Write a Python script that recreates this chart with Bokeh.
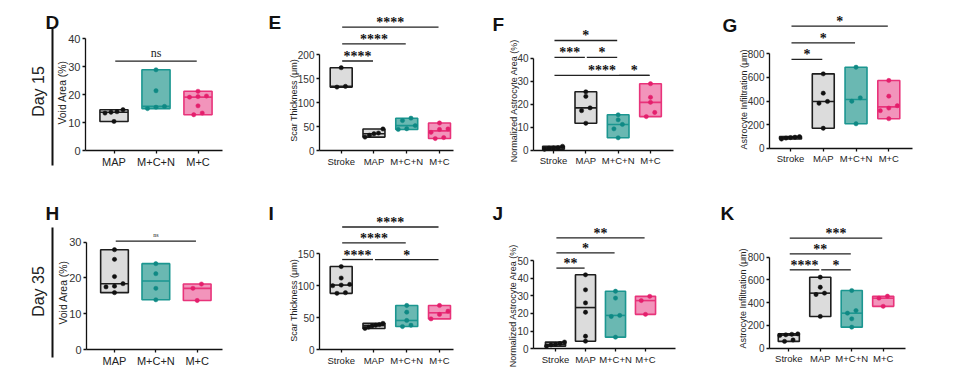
import numpy as np
from bokeh.plotting import figure
from bokeh.models import Range1d, LinearAxis, FixedTicker, Label, LabelSet, ColumnDataSource
from bokeh.layouts import row, column
from bokeh.embed import file_html
from bokeh.resources import INLINE

# ---------------- data ----------------
CATS_3 = ["MAP", "M+C+N", "M+C"]
CATS_4 = ["Stroke", "MAP", "M+C+N", "M+C"]

# D  Void Area (%) - Day 15
D_MAP = [10.4, 13.4, 13.7, 13.9, 14.6]
D_MCN = [15.0, 15.5, 15.8, 21.4, 28.9]
D_MC = [12.8, 13.4, 16.0, 19.1, 19.3, 19.5, 21.2]
# E  Scar Thickness (um) - Day 15
E_STROKE = [132.5, 134.0, 173.0]
E_MAP = [28.0, 32.0, 35.0, 36.5, 45.0]
E_MCN = [44.0, 45.5, 52.0, 62.5, 67.5]
E_MC = [25.0, 27.0, 38.0, 44.0, 45.0, 57.5]
# F  Normalized Astrocyte Area (%) - Day 15
F_STROKE = [0.4, 0.9, 1.0, 1.1, 1.7]
F_MAP = [11.7, 17.2, 18.4, 23.4, 25.4]
F_MCN = [5.4, 9.3, 11.2, 13.2, 15.4]
F_MC = [14.6, 16.4, 20.8, 23.0, 28.9]
# G  Astrocyte Infiltration (um) - Day 15
G_STROKE = [78, 86, 90, 93, 98]
G_MAP = [169, 381, 396, 466, 630]
G_MCN = [207, 398, 427, 686]
G_MC = [250, 318, 340, 360, 441, 574]
# H  Void Area (%) - Day 35
H_MAP = [15.9, 17.5, 17.7, 18.4, 20.4, 25.2, 27.9]
H_MCN = [13.9, 17.1, 21.2, 24.0]
H_MC = [13.7, 17.1, 18.3]
# I  Scar Thickness (um) - Day 35
I_STROKE = [88, 89, 100, 101, 102, 112, 130]
I_MAP = [33, 35, 37, 38, 39, 41]
I_MCN = [36, 38, 45.5, 58.5, 69]
I_MC = [48, 55, 60, 69]
# J  Normalized Astrocyte Area (%) - Day 35
J_STROKE = [1.5, 2.2, 2.5, 3.0, 3.8]
J_MAP = [4.3, 7.1, 20.7, 26.0, 33.4, 41.9]
J_MCN = [6.6, 18.3, 18.9, 28.7, 32.6]
J_MC = [19.5, 27.3, 29.7]
# K  Astrocyte Infiltration (um) - Day 35
K_STROKE = [60, 72, 112, 118, 122, 126]
K_MAP = [279, 472, 484, 536, 624]
K_MCN = [185, 258, 308, 331, 507]
K_MC = [368, 440, 457]

# significance comparisons: (from, to, label, bar height in data units)
D_SIG = [("MAP", "M+C", "ns", 32.0)]
E_SIG = [("Stroke", "MAP", "****", 187), ("Stroke", "M+C+N", "****", 223), ("Stroke", "M+C", "****", 258)]
F_SIG = [("Stroke", "MAP", "***", 40.4), ("MAP", "M+C+N", "*", 40.4), ("Stroke", "M+C+N", "*", 47.7),
         ("Stroke", "M+C", "****", 32.5), ("M+C+N", "M+C", "*", 32.5)]
G_SIG = [("Stroke", "MAP", "*", 752), ("Stroke", "M+C+N", "*", 893), ("Stroke", "M+C", "*", 1034)]
H_SIG = [("MAP", "M+C", "ns", 30.3)]
I_SIG = [("Stroke", "MAP", "****", 141), ("MAP", "M+C", "*", 141), ("Stroke", "M+C+N", "****", 167),
         ("Stroke", "M+C", "****", 192)]
J_SIG = [("Stroke", "MAP", "**", 45.7), ("Stroke", "M+C+N", "*", 54.3), ("Stroke", "M+C", "**", 62.8)]
K_SIG = [("Stroke", "MAP", "****", 689), ("MAP", "M+C+N", "*", 689), ("Stroke", "M+C+N", "**", 830),
         ("Stroke", "M+C", "***", 968)]

TICKS_D = [0, 10, 20, 30, 40]
TICKS_E = [0, 50, 100, 150, 200]
TICKS_F = [0, 10, 20, 30, 40]
TICKS_G = [0, 200, 400, 600, 800]
TICKS_H = [0, 10, 20, 30]
TICKS_I = [0, 50, 100, 150]
TICKS_J = [0, 10, 20, 30, 40, 50]
TICKS_K = [0, 200, 400, 600, 800]

# ---------------- styles ----------------
FONT = "Liberation Sans"
STAR_FONT = "DejaVu Sans"
GRAY = dict(fill="#dcdcdc", line="#1e1e1e", pt="#111111")
TEAL = dict(fill="#6ab8b2", line="#1b9690", pt="#0f8984")
PINK = dict(fill="#f294bb", line="#e8337a", pt="#e41f6c")
STYLE = {"Stroke": GRAY, "MAP": GRAY, "M+C+N": TEAL, "M+C": PINK}
BOX_W = 0.67

# rows: (figure top, figure height) in page px
ROW1 = (0, 174)
ROW2 = (174, 193)


def swarm(vals, ppu, spx):
    vals = np.asarray(vals, float)
    order = np.argsort(vals)
    offs = np.zeros(len(vals))
    clusters, cur = [], [order[0]]
    for a, b in zip(order[:-1], order[1:]):
        if (vals[b] - vals[a]) * ppu < 4.5:
            cur.append(b)
        else:
            clusters.append(cur)
            cur = [b]
    clusters.append(cur)
    for c in clusters:
        m = len(c)
        if m == 1:
            continue
        dx = min(8.5, 18.0 / (m - 1))
        for k, i in enumerate(c):
            offs[i] = (k - (m - 1) / 2) * dx / spx
    return offs


def style_axis(ax, label_fs):
    ax.major_label_text_font = FONT
    ax.major_label_text_font_size = label_fs
    ax.major_label_text_color = "#333333"
    ax.major_tick_out = 3
    ax.major_tick_in = 0
    ax.minor_tick_out = 0
    ax.minor_tick_in = 0
    ax.axis_line_width = 1.3
    ax.major_tick_line_width = 1.3
    ax.axis_line_color = "#111111"
    ax.major_tick_line_color = "#111111"


def panel(letter, cats, groups, sig, ylabel, ticks, L, R, day=None, big=False, ns_size="12px"):
    fig_top, fig_h = R
    n = len(cats)
    spx = (L["last"] - L["first"]) / (n - 1)
    ppu = (L["zero"] - L["top"]) / ticks[-1]

    def xd(px):
        return (px - L["first"]) / spx

    def yd(py):
        return (L["zero"] - py) / ppu

    p = figure(width=L["w"], height=fig_h,
               x_range=Range1d(xd(L["x"]), xd(L["x"] + L["w"])),
               y_range=Range1d(yd(fig_top + fig_h), yd(fig_top)),
               output_backend="svg", toolbar_location=None,
               min_border=0, min_border_left=0, min_border_right=0,
               min_border_top=0, min_border_bottom=0)
    p.outline_line_color = None
    p.grid.visible = False
    p.background_fill_color = "white"
    p.border_fill_color = "white"

    tick_fs = "11px" if big else "10px"
    xl_fs = "11px" if big else "9.5px"
    lab_fs = "10.4px" if big else "9px"

    yax = p.yaxis[0]
    yax.fixed_location = xd(L["axis"])
    yax.ticker = FixedTicker(ticks=ticks)
    yax.bounds = (0, ticks[-1])
    yax.major_label_standoff = 2
    style_axis(yax, tick_fs)

    xax = p.xaxis[0]
    xax.fixed_location = 0
    xax.bounds = (xd(L["axis"]), xd(L["end"]))
    xax.ticker = FixedTicker(ticks=list(range(n)))
    xax.major_label_overrides = {i: c for i, c in enumerate(cats)}
    xax.major_label_standoff = 2
    style_axis(xax, xl_fs)
    xax.major_label_text_color = "#222222"

    # y-axis title
    cx, cy = L["ylab"]
    p.add_layout(Label(x=xd(cx), y=yd(cy), text=ylabel, angle=np.pi / 2, text_align="center",
                       text_baseline="middle", text_font=FONT, text_font_size=lab_fs,
                       text_color="#222222"))

    if day is not None:
        text, line_x, line_top, line_bot, tcx, tcy = day
        dax = LinearAxis(ticker=FixedTicker(ticks=[]))
        dax.fixed_location = xd(line_x)
        dax.bounds = (yd(line_bot), yd(line_top))
        dax.major_tick_out = 0
        dax.major_tick_in = 0
        dax.minor_tick_out = 0
        dax.minor_tick_in = 0
        dax.major_label_text_font_size = "0px"
        dax.axis_line_width = 2
        dax.axis_line_color = "#111111"
        p.add_layout(dax, "left")
        p.add_layout(Label(x=xd(tcx), y=yd(tcy), text=text, angle=np.pi / 2, text_align="center",
                           text_baseline="middle", text_font=FONT, text_font_size="16px",
                           text_color="#222222"))

    xs = np.arange(n, dtype=float)
    mins = [min(g) for g in groups]
    maxs = [max(g) for g in groups]
    meds = [float(np.median(g)) for g in groups]
    fills = [STYLE[c]["fill"] for c in cats]
    lines = [STYLE[c]["line"] for c in cats]
    p.vbar(x=xs, width=BOX_W, bottom=mins, top=maxs, fill_color=fills, line_color=lines, line_width=1.6)
    p.segment(x0=xs - BOX_W / 2, x1=xs + BOX_W / 2, y0=meds, y1=meds, line_color=lines, line_width=1.6)

    px, py, pc = [], [], []
    for i, (c, g) in enumerate(zip(cats, groups)):
        offs = swarm(g, ppu, spx)
        for v, o in zip(g, offs):
            px.append(i + o)
            py.append(v)
            pc.append(STYLE[c]["pt"])
    p.scatter(x=px, y=py, size=4.3, fill_color=pc, line_color=pc, line_width=0.5)

    idx = {c: i for i, c in enumerate(cats)}
    sx0 = [idx[a] + 0.03 for a, b, t, h in sig]
    sx1 = [idx[b] - 0.03 for a, b, t, h in sig]
    sh = [h for a, b, t, h in sig]
    p.segment(x0=sx0, x1=sx1, y0=sh, y1=sh, line_color="#222222", line_width=1.3)
    stars = [(0.5 * (idx[a] + idx[b]), h, t) for a, b, t, h in sig if t != "ns"]
    nss = [(0.5 * (idx[a] + idx[b]), h, t) for a, b, t, h in sig if t == "ns"]
    if stars:
        src = ColumnDataSource(dict(x=[s[0] for s in stars], y=[s[1] for s in stars], t=[s[2] for s in stars]))
        p.add_layout(LabelSet(x="x", y="y", text="t", source=src, text_align="center",
                              text_baseline="alphabetic", text_font=STAR_FONT, text_font_style="bold",
                              text_font_size="14px", text_color="#111111", y_offset=0))
    if nss:
        src = ColumnDataSource(dict(x=[s[0] for s in nss], y=[s[1] for s in nss], t=[s[2] for s in nss]))
        p.add_layout(LabelSet(x="x", y="y", text="t", source=src, text_align="center",
                              text_baseline="alphabetic", text_font=FONT, text_font_size=ns_size,
                              text_color="#222222", y_offset=4))

    lx, lb = L["letter"]
    p.add_layout(Label(x=xd(lx), y=yd(lb), text=letter,
                       text_font=FONT, text_font_style="bold", text_font_size="19px",
                       text_baseline="alphabetic", text_align="left", text_color="#111111"))
    return p


LD = dict(x=0, w=250, axis=85, end=222, first=113.5, last=197.5, zero=150, top=38.3,
          ylab=(62, 92), letter=(45, 22))
LE = dict(x=250, w=220, axis=319, end=453, first=340.7, last=439, zero=150, top=54.3,
          ylab=(293, 100), letter=(268, 22))
LF = dict(x=470, w=235, axis=533, end=673, first=553, last=650, zero=149.7, top=57.7,
          ylab=(513, 100), letter=(492, 24))
LG = dict(x=705, w=259, axis=769, end=912, first=790, last=888.3, zero=147.7, top=53.3,
          ylab=(743, 99), letter=(722, 25))
LH = dict(x=0, w=250, axis=86, end=222, first=114, last=196.7, zero=349, top=241.7,
          ylab=(63, 292), letter=(45, 213))
LI = dict(x=250, w=220, axis=319, end=453, first=340.7, last=439, zero=349, top=253.3,
          ylab=(293, 300), letter=(268, 213))
LJ = dict(x=470, w=235, axis=533, end=675, first=555, last=645, zero=348.3, top=260,
          ylab=(512, 305), letter=(492, 213))
LK = dict(x=705, w=259, axis=769, end=905, first=788.3, last=882.7, zero=347.7, top=256.7,
          ylab=(742, 298), letter=(720, 213))

pD = panel("D", CATS_3, [D_MAP, D_MCN, D_MC], D_SIG, "Void Area (%)", TICKS_D, LD, ROW1,
           day=("Day 15", 52, 27, 165, 37.5, 91), big=True, ns_size="12px")
pE = panel("E", CATS_4, [E_STROKE, E_MAP, E_MCN, E_MC], E_SIG, "Scar Thickness (μm)", TICKS_E, LE, ROW1)
pF = panel("F", CATS_4, [F_STROKE, F_MAP, F_MCN, F_MC], F_SIG, "Normalized Astrocyte Area (%)", TICKS_F, LF, ROW1)
pG = panel("G", CATS_4, [G_STROKE, G_MAP, G_MCN, G_MC], G_SIG, "Astrocyte Infiltration (μm)", TICKS_G, LG, ROW1)
pH = panel("H", CATS_3, [H_MAP, H_MCN, H_MC], H_SIG, "Void Area (%)", TICKS_H, LH, ROW2,
           day=("Day 35", 52, 227, 357, 37.5, 291), big=True, ns_size="6px")
pI = panel("I", CATS_4, [I_STROKE, I_MAP, I_MCN, I_MC], I_SIG, "Scar Thickness (μm)", TICKS_I, LI, ROW2)
pJ = panel("J", CATS_4, [J_STROKE, J_MAP, J_MCN, J_MC], J_SIG, "Normalized Astrocyte Area (%)", TICKS_J, LJ, ROW2)
pK = panel("K", CATS_4, [K_STROKE, K_MAP, K_MCN, K_MC], K_SIG, "Astrocyte Infiltration (μm)", TICKS_K, LK, ROW2)

layout = column(row(pD, pE, pF, pG, spacing=0), row(pH, pI, pJ, pK, spacing=0), spacing=0)
open("out.html", "w").write(file_html(layout, INLINE, "Figure"))
